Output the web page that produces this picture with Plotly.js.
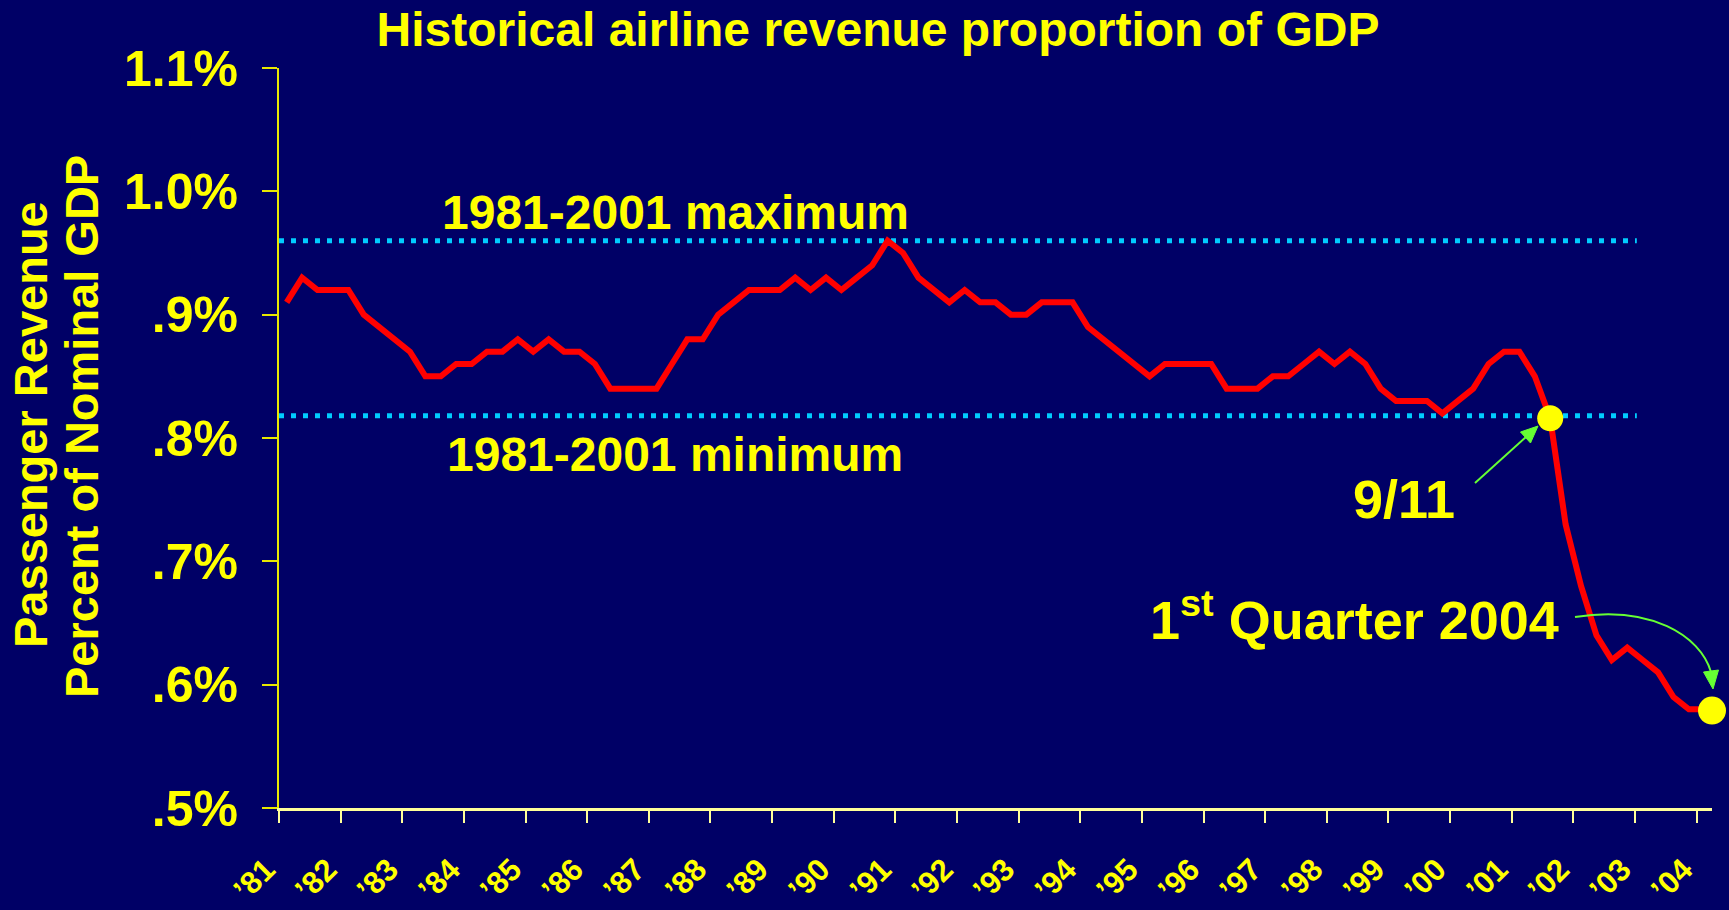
<!DOCTYPE html>
<html><head><meta charset="utf-8">
<script src="https://cdn.plot.ly/plotly-3.0.1.min.js"></script>
<style>html,body{margin:0;padding:0;background:#000066;} #chart{width:1729px;height:910px;}</style>
</head><body><div id="chart"></div>
<script>
// Quarterly passenger revenue as % of nominal GDP, 1981 Q1 .. 2004 Q1
const startYear = 1981;
const revenuePct = [
  0.91,0.93,0.92,0.92,
  0.92,0.90,0.89,0.88,
  0.87,0.85,0.85,0.86,
  0.86,0.87,0.87,0.88,
  0.87,0.88,0.87,0.87,
  0.86,0.84,0.84,0.84,
  0.84,0.86,0.88,0.88,
  0.90,0.91,0.92,0.92,
  0.92,0.93,0.92,0.93,
  0.92,0.93,0.94,0.96,
  0.95,0.93,0.92,0.91,
  0.92,0.91,0.91,0.90,
  0.90,0.91,0.91,0.91,
  0.89,0.88,0.87,0.86,
  0.85,0.86,0.86,0.86,
  0.86,0.84,0.84,0.84,
  0.85,0.85,0.86,0.87,
  0.86,0.87,0.86,0.84,
  0.83,0.83,0.83,0.82,
  0.83,0.84,0.86,0.87,
  0.87,0.85,0.816,0.73,
  0.68,0.64,0.62,0.63,
  0.62,0.61,0.59,0.58,
  0.58
];
const yearTicks = [1981,1982,1983,1984,1985,1986,1987,1988,1989,1990,1991,1992,1993,1994,1995,1996,1997,1998,1999,2000,2001,2002,2003,2004];
const yearLabels = ["’81","’82","’83","’84","’85","’86","’87","’88","’89","’90","’91","’92","’93","’94","’95","’96","’97","’98","’99","’00","’01","’02","’03","’04"];
const yTickVals = [0.5,0.6,0.7,0.8,0.9,1.0,1.1];
const yTickText = [".5%",".6%",".7%",".8%",".9%","1.0%","1.1%"];
const bandX = [1981, 2003.03];
const maxLevel = [0.96, 0.96];
const minLevel = [0.818, 0.818];
const highlightX = [2001.625, 2004.25];
const highlightY = [0.816, 0.579];

const quarterX = revenuePct.map((v, i) => startYear + (i + 0.5) / 4);

// plot-area geometry helpers (pixel -> paper)
const L = 279, R = 1712, T = 68, B = 808;
const P = x => (x - L) / (R - L);
const Q = y => (B - y) / (B - T);
const pt = (x, y) => `${P(x)},${Q(y)}`;

const FONT = 'Liberation Sans, Arial, Helvetica, sans-serif';
const YEL = '#ffff00';
const GREEN = '#66ff33';

const traces = [
  {x: bandX, y: maxLevel, mode: 'lines', line: {color: '#00ccff', width: 5, dash: '5px,7px'}, hoverinfo: 'skip'},
  {x: bandX, y: minLevel, mode: 'lines', line: {color: '#00ccff', width: 5, dash: '5px,7px'}, hoverinfo: 'skip'},
  {x: quarterX, y: revenuePct, mode: 'lines', line: {color: '#ff0000', width: 6}},
  {x: [highlightX[0]], y: [highlightY[0]], mode: 'markers', marker: {color: YEL, size: 26, opacity: 1, line: {width: 0}}, cliponaxis: false},
  {x: [highlightX[1]], y: [highlightY[1]], mode: 'markers', marker: {color: YEL, size: 28, opacity: 1, line: {width: 0}}, cliponaxis: false}
];

// callout arrows (decorations)
const sepShaft = `M ${pt(1475, 483)} L ${pt(1526, 437)}`;
const sepHead = `M ${pt(1538, 426)} L ${pt(1530.5, 443)} L ${pt(1520.5, 432)} Z`;
const q1Curve = `M ${pt(1575, 617)} C ${pt(1650, 605)} ${pt(1700, 635)} ${pt(1711, 672)}`;
const q1Head = `M ${pt(1713, 689)} L ${pt(1718.5, 670)} L ${pt(1703.5, 672)} Z`;

const layout = {
  width: 1729, height: 910,
  paper_bgcolor: '#000066', plot_bgcolor: '#000066',
  showlegend: false,
  margin: {l: L, r: 1729 - R, t: T, b: 910 - B, pad: 0},
  title: {text: 'Historical airline revenue proportion of GDP', font: {family: FONT, size: 48, color: YEL, weight: 'bold'},
          x: 878 / 1729, xref: 'container', xanchor: 'center', y: 1 - 12 / 910, yref: 'container', yanchor: 'top'},
  xaxis: {range: [1981, 2004.25], tickmode: 'array', tickvals: yearTicks, ticktext: yearLabels, tickangle: -45,
          ticks: 'outside', ticklen: 12, tickwidth: 2, tickcolor: '#ffff99',
          showline: true, linecolor: '#ffff99', linewidth: 3, showgrid: false, zeroline: false,
          tickfont: {family: FONT, size: 31, color: YEL, weight: 'bold'}, ticklabelstandoff: 16, ticklabelshift: -13, fixedrange: true},
  yaxis: {range: [0.5, 1.1], tickmode: 'array', tickvals: yTickVals, ticktext: yTickText,
          ticks: 'outside', ticklen: 15, tickwidth: 2, tickcolor: '#e8e800',
          showline: true, linecolor: '#e8e800', linewidth: 2, showgrid: false, zeroline: false,
          tickfont: {family: FONT, size: 50, color: YEL, weight: 'bold'}, ticklabelstandoff: 14, fixedrange: true},
  shapes: [
    {type: 'path', xref: 'paper', yref: 'paper', path: sepShaft, line: {color: GREEN, width: 2}},
    {type: 'path', xref: 'paper', yref: 'paper', path: sepHead, fillcolor: GREEN, line: {color: GREEN, width: 1}},
    {type: 'path', xref: 'paper', yref: 'paper', path: q1Curve, line: {color: GREEN, width: 2}},
    {type: 'path', xref: 'paper', yref: 'paper', path: q1Head, fillcolor: GREEN, line: {color: GREEN, width: 1}}
  ],
  annotations: [
    {xref: 'paper', yref: 'paper', x: P(31), y: Q(425), text: 'Passenger Revenue', textangle: -90, showarrow: false,
     xanchor: 'center', yanchor: 'middle', font: {family: FONT, size: 47, color: YEL, weight: 'bold'}},
    {xref: 'paper', yref: 'paper', x: P(81), y: Q(427), text: 'Percent of Nominal GDP', textangle: -90, showarrow: false,
     xanchor: 'center', yanchor: 'middle', font: {family: FONT, size: 47, color: YEL, weight: 'bold'}},
    {xref: 'paper', yref: 'paper', x: P(675), y: Q(212), text: '1981-2001 maximum', showarrow: false,
     xanchor: 'center', yanchor: 'middle', font: {family: FONT, size: 48, color: YEL, weight: 'bold'}},
    {xref: 'paper', yref: 'paper', x: P(675), y: Q(454), text: '1981-2001 minimum', showarrow: false,
     xanchor: 'center', yanchor: 'middle', font: {family: FONT, size: 48, color: YEL, weight: 'bold'}},
    {xref: 'paper', yref: 'paper', x: P(1404), y: Q(499), text: '9/11', showarrow: false,
     xanchor: 'center', yanchor: 'middle', font: {family: FONT, size: 54, color: YEL, weight: 'bold'}},
    {xref: 'paper', yref: 'paper', x: P(1561), y: Q(616), text: '1<sup>st</sup> Quarter 2004', showarrow: false,
     xanchor: 'right', yanchor: 'middle', font: {family: FONT, size: 54, color: YEL, weight: 'bold'}}
  ]
};

Plotly.newPlot('chart', traces, layout, {displayModeBar: false, staticPlot: true});
</script></body></html>
